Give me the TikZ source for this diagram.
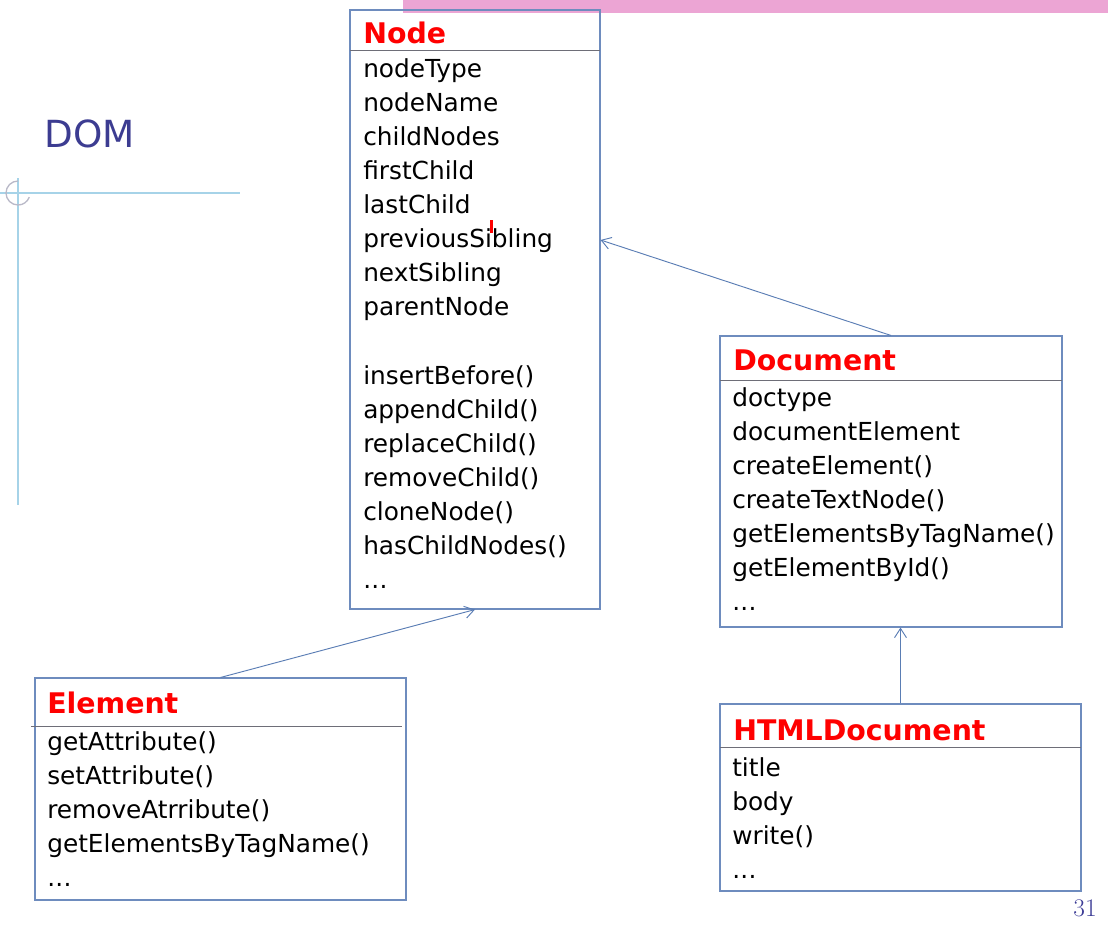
\documentclass[tikz,border=0pt]{standalone}
\usepackage{fontspec}
\newfontfamily\dv{DejaVu Sans}
\usetikzlibrary{arrows.meta,fit}
\newcommand\mydots{.\kern0.2pt.\kern0.2pt.}
\definecolor{boxblue}{RGB}{110,140,190}
\definecolor{arrowblue}{RGB}{90,125,180}
\definecolor{sepgray}{RGB}{110,110,120}
\definecolor{domblue}{RGB}{60,60,145}
\definecolor{deco}{RGB}{166,211,232}
\definecolor{decogray}{RGB}{185,185,200}
\definecolor{bandpink}{RGB}{236,165,212}
\definecolor{pageblue}{RGB}{60,60,150}
\begin{document}
\begin{tikzpicture}[x=0.75pt,y=-0.75pt,
  box/.style={draw=boxblue,line width=0.8pt,inner sep=0pt},
  sep/.style={draw=sepgray,line width=0.7pt},
  title/.style={anchor=base west,inner sep=0pt,text=red,font=\dv\fontsize{21.3pt}{24pt}\selectfont\bfseries},
  item/.style={anchor=base west,inner sep=0pt,font=\dv\fontsize{18.6pt}{22pt}\selectfont},
  inh/.style={draw=arrowblue,line width=0.7pt,-{Straight Barb[length=7pt,width=9pt]}}]
\useasboundingbox (0,0) rectangle (1108,933);
% top band
\fill[bandpink] (403,0) rectangle (1108,13);
% left decoration
\draw[deco,line width=1.2pt] (0,193) -- (240,193);
\draw[deco,line width=1.2pt] (18,178) -- (18,505);
\draw[decogray,line width=1pt] (18,181) arc[start angle=270,end angle=20,radius=12];
% title
\node[anchor=base west,inner sep=0pt,text=domblue,font=\dv\fontsize{28pt}{32pt}\selectfont] (dom) at (44,147) {DOM};
% boxes
\node[box,fit={(350,10) (600,609)}] (nodebox) {};
\node[box,fit={(720,336) (1062,627)}] (docbox) {};
\node[box,fit={(720,704) (1081,891)}] (htmlbox) {};
\node[box,fit={(35,678) (406,900)}] (elembox) {};
% separators
\draw[sep] (350,50) -- (600,50);
\draw[sep] (720,380) -- (1062,380);
\draw[sep] (720,747) -- (1081,747);
\draw[sep] (31,726) -- (402,726);
% titles
\node[title] (tnode) at (363,43) {Node};
\node[title] (tdoc) at (733,370) {Document};
\node[title] (thtml) at (733,740) {HTMLDocument};
\node[title] (telem) at (47,713) {Element};
% Node items
\foreach \t [count=\i] in {nodeType,nodeName,childNodes,firstChild,lastChild,previousSibling,nextSibling,parentNode}
  \node[item] (na\i) at (363,{77+34*(\i-1)}) {\t};
\foreach \t [count=\i] in {insertBefore(),appendChild(),replaceChild(),removeChild(),cloneNode(),hasChildNodes(),\mydots}
  \node[item] (nm\i) at (363,{384+34*(\i-1)}) {\t};
% Document items
\foreach \t [count=\i] in {doctype,documentElement,createElement(),createTextNode(),getElementsByTagName(),getElementById(),\mydots}
  \node[item] (d\i) at (732,{406+34*(\i-1)}) {\t};
% HTMLDocument items
\foreach \t [count=\i] in {title,body,write(),\mydots}
  \node[item] (h\i) at (732,{776+34*(\i-1)}) {\t};
% Element items
\foreach \t [count=\i] in {getAttribute(),setAttribute(),removeAtrribute(),getElementsByTagName(),\mydots}
  \node[item] (e\i) at (47,{750+34*(\i-1)}) {\t};
% cursor mark
\fill[red] (490,220) rectangle (492.5,233);
% connectors
\coordinate (ylvl) at (0,240);
\coordinate (nodeR) at (nodebox.east |- ylvl);
\draw[inh] (docbox.north) -- (nodeR);
\draw[inh] (elembox.north) -- (nodebox.south);
\draw[inh] (htmlbox.north) -- (htmlbox.north |- docbox.south);
% page number
\node[anchor=base east,inner sep=0pt,text=pageblue,font=\fontsize{19pt}{22pt}\selectfont] (pg) at (1097,916) {31};
\end{tikzpicture}
\end{document}
